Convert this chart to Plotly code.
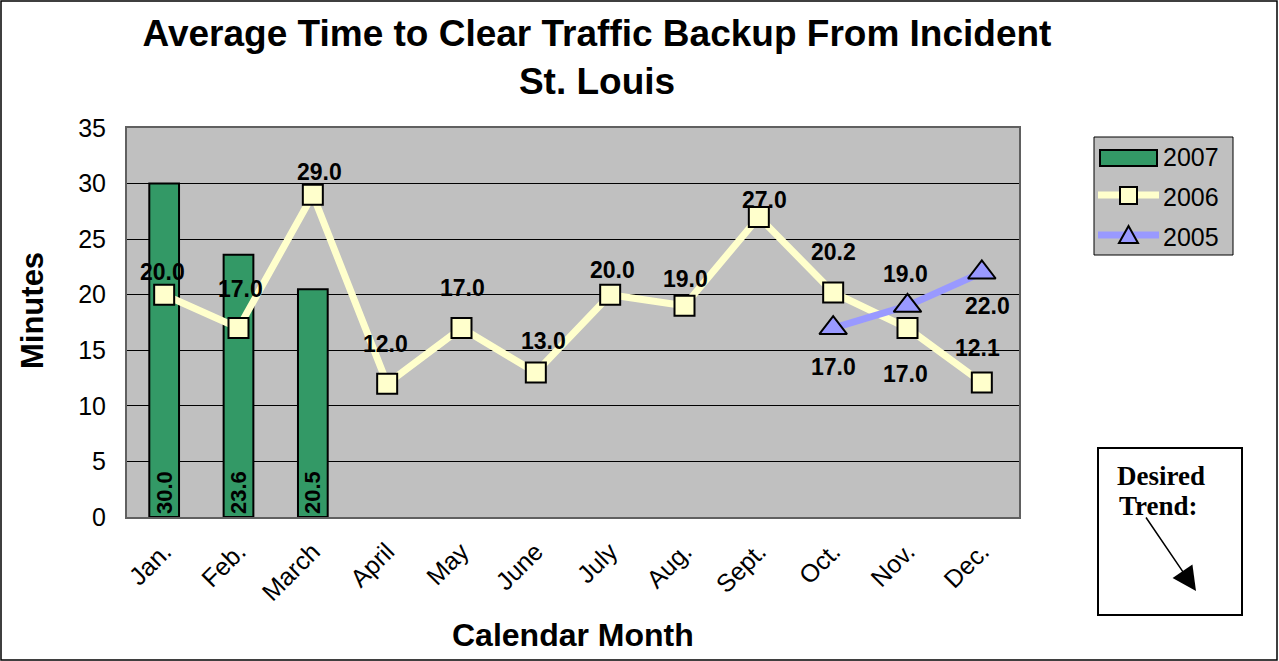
import plotly.graph_objects as go

# --------------------------------------------------------------------------
# DATA
# --------------------------------------------------------------------------
months = ["Jan.", "Feb.", "March", "April", "May", "June",
          "July", "Aug.", "Sept.", "Oct.", "Nov.", "Dec."]

months_2007 = ["Jan.", "Feb.", "March"]
values_2007 = [30.0, 23.6, 20.5]

values_2006 = [20.0, 17.0, 29.0, 12.0, 17.0, 13.0, 20.0, 19.0, 27.0, 20.2, 17.0, 12.1]

months_2005 = ["Oct.", "Nov.", "Dec."]
values_2005 = [17.0, 19.0, 22.0]

y_ticks = [0, 5, 10, 15, 20, 25, 30, 35]
series_names = ["2007", "2006", "2005"]

# --------------------------------------------------------------------------
# STYLE
# --------------------------------------------------------------------------
C_BAR = "#339966"
C_2006 = "#FFFFCC"
C_2005 = "#9999FF"
C_PLOT = "#C0C0C0"
FONT = "Liberation Sans, Arial, sans-serif"
FONT_SERIF = "Liberation Serif, Times New Roman, serif"

# label offsets (pixels) for the point labels, as placed in the original
shift_2006 = [(-2, 23), (2, 39), (7, 23), (-2, 40), (1, 40), (8, 32),
              (2, 25), (1, 27), (6, 17), (0, 40), (-2, -46), (-4, 35)]
shift_2005 = [(0, -39), (-2, 32), (6, -34)]

# plot area in pixels: x 127..1019, y 128..517
PX_L, PX_R, PX_T, PX_B = 127, 1019, 128, 517
W, H = 1279, 661
PW, PH = PX_R - PX_L, PX_B - PX_T


def px(x):
    return (x - PX_L) / PW


def py(y):
    return (PX_B - y) / PH


lbl_font = dict(family=FONT, size=23, color="black", weight="bold")

fig = go.Figure()

fig.add_trace(
    go.Bar(
        x=months_2007,
        y=values_2007,
        name=series_names[0],
        width=0.4,
        marker=dict(color=C_BAR, line=dict(color="black", width=2)),
        text=[f"{v:.1f}" for v in values_2007],
        textposition="inside",
        insidetextanchor="start",
        textangle=-90,
        constraintext="none",
        textfont=dict(family=FONT, size=22, color="black", weight="bold"),
    )
)

fig.add_trace(
    go.Scatter(
        x=months,
        y=values_2006,
        name=series_names[1],
        mode="lines+markers",
        line=dict(color=C_2006, width=7),
        marker=dict(symbol="square", size=20, color=C_2006,
                    line=dict(color="black", width=2)),
    )
)

fig.add_trace(
    go.Scatter(
        x=months_2005,
        y=values_2005,
        name=series_names[2],
        mode="lines+markers",
        line=dict(color=C_2005, width=7),
        marker=dict(symbol="triangle-up", size=24, color=C_2005,
                    line=dict(color="black", width=2)),
    )
)

# point labels
for xs, ys, shifts in [(months, values_2006, shift_2006),
                       (months_2005, values_2005, shift_2005)]:
    for m, v, (dx, dy) in zip(xs, ys, shifts):
        fig.add_annotation(x=m, y=v, text=f"{v:.1f}", showarrow=False,
                           xshift=dx, yshift=dy, font=lbl_font)

shapes = []

# outer border of the whole picture
shapes.append(dict(type="rect", xref="paper", yref="paper",
                   x0=px(1), x1=px(W - 2), y0=py(H - 1), y1=py(1),
                   line=dict(color="black", width=1.5), layer="below"))

# hand-drawn legend (bar swatch is a wide rectangle, like the original)
shapes.append(dict(type="rect", xref="paper", yref="paper",
                   x0=px(1094), x1=px(1233), y0=py(255), y1=py(137),
                   line=dict(color="black", width=1), fillcolor=C_PLOT))
shapes.append(dict(type="rect", xref="paper", yref="paper",
                   x0=px(1100), x1=px(1157), y0=py(166), y1=py(150),
                   line=dict(color="black", width=2), fillcolor=C_BAR))
shapes.append(dict(type="line", xref="paper", yref="paper",
                   x0=px(1098), x1=px(1159), y0=py(195), y1=py(195),
                   line=dict(color=C_2006, width=7)))
shapes.append(dict(type="rect", xref="paper", yref="paper",
                   x0=px(1120), x1=px(1137), y0=py(204), y1=py(187),
                   line=dict(color="black", width=2), fillcolor=C_2006))
shapes.append(dict(type="line", xref="paper", yref="paper",
                   x0=px(1098), x1=px(1159), y0=py(235), y1=py(235),
                   line=dict(color=C_2005, width=7)))
tri = "M {:.4f} {:.4f} L {:.4f} {:.4f} L {:.4f} {:.4f} Z".format(
    px(1128.5), py(226), px(1119), py(243), px(1138), py(243))
shapes.append(dict(type="path", xref="paper", yref="paper", path=tri,
                   line=dict(color="black", width=2), fillcolor=C_2005))

# desired trend box
shapes.append(dict(type="rect", xref="paper", yref="paper",
                   x0=px(1098), x1=px(1242), y0=py(615), y1=py(448),
                   line=dict(color="black", width=2), fillcolor="white"))

for name, yc in zip(series_names, [157, 197, 237]):
    fig.add_annotation(xref="paper", yref="paper", x=px(1161), y=py(yc),
                       xanchor="left", yanchor="middle", text=name,
                       showarrow=False,
                       font=dict(family=FONT, size=25, color="black"))

for txt, xc, yc in [("<b>Desired</b>", 1161, 476), ("<b>Trend:</b>", 1158, 506)]:
    fig.add_annotation(xref="paper", yref="paper", x=px(xc), y=py(yc),
                       xanchor="center", yanchor="middle",
                       text=txt, showarrow=False,
                       font=dict(family=FONT_SERIF, size=27, color="black"))
fig.add_annotation(xref="paper", yref="paper", x=px(1196), y=py(591),
                   ax=-51, ay=-75, text="", showarrow=True,
                   arrowhead=2, arrowsize=3.2, arrowwidth=1.5, arrowcolor="black")

# axis titles
fig.add_annotation(xref="paper", yref="paper", x=px(573), y=py(635),
                   xanchor="center", yanchor="middle",
                   text="<b>Calendar Month</b>", showarrow=False,
                   font=dict(family=FONT, size=32, color="black"))
fig.add_annotation(xref="paper", yref="paper", x=px(32), y=py(311),
                   xanchor="center", yanchor="middle",
                   text="<b>Minutes</b>", showarrow=False, textangle=-90,
                   font=dict(family=FONT, size=31, color="black"))

fig.update_layout(
    width=W,
    height=H,
    margin=dict(l=PX_L, r=W - PX_R, t=PX_T, b=H - PX_B),
    paper_bgcolor="white",
    plot_bgcolor=C_PLOT,
    shapes=shapes,
    title=dict(
        text="<b>Average Time to Clear Traffic Backup From Incident<br>St. Louis</b>",
        x=597 / W, xanchor="center",
        y=1 - 46 / H, yanchor="middle",
        font=dict(family=FONT, size=37, color="black"),
    ),
    showlegend=False,
    xaxis=dict(
        categoryorder="array", categoryarray=months, range=[-0.5, 11.5],
        tickangle=-45, tickfont=dict(family=FONT, size=25, color="black"),
        showgrid=False, showline=True, linecolor="#606060", linewidth=2,
        mirror=True, ticks="outside", ticklen=8, tickcolor="rgba(0,0,0,0)",
    ),
    yaxis=dict(
        range=[0, 35], tickvals=y_ticks,
        tickfont=dict(family=FONT, size=25, color="black"),
        showgrid=True, gridcolor="black", gridwidth=1,
        showline=True, linecolor="#606060", linewidth=2, mirror=True,
        ticks="outside", ticklen=14, tickcolor="rgba(0,0,0,0)", zeroline=False,
    ),
)

fig.write_html(
    "out.html",
    config={"displayModeBar": False},
    post_script="document.body.style.margin='0';document.body.style.overflow='hidden';",
)
